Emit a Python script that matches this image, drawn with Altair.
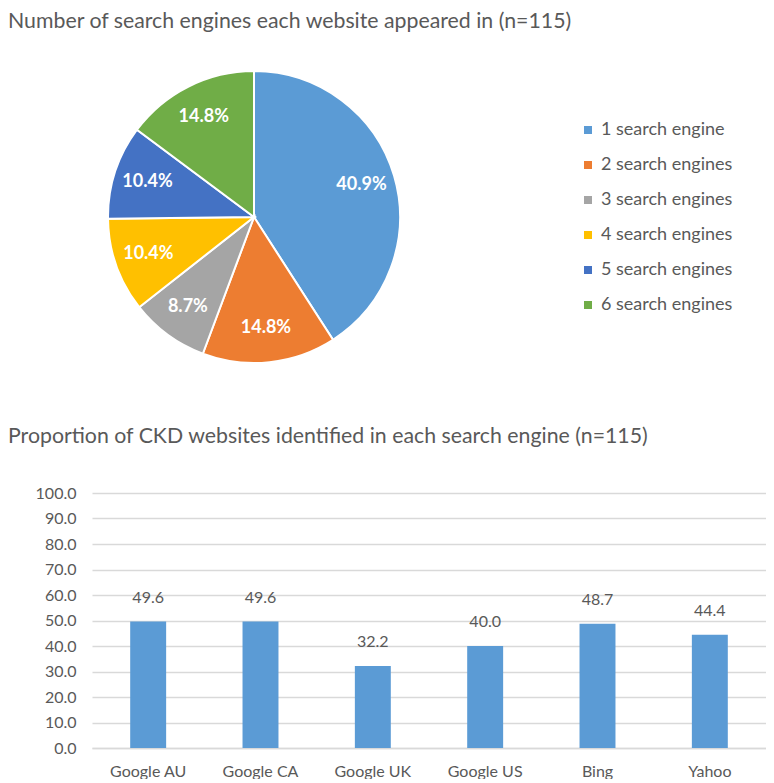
import altair as alt
import pandas as pd

# ---- data ----
pie_categories = ["1 search engine", "2 search engines", "3 search engines",
                  "4 search engines", "5 search engines", "6 search engines"]
pie_values = [40.9, 14.8, 8.7, 10.4, 10.4, 14.8]
pie_colors = ["#5B9BD5", "#ED7D31", "#A5A5A5", "#FFC000", "#4472C4", "#70AD47"]

engines = ["Google AU", "Google CA", "Google UK", "Google US", "Bing", "Yahoo"]
proportions = [49.6, 49.6, 32.2, 40.0, 48.7, 44.4]
y_ticks = [0, 10, 20, 30, 40, 50, 60, 70, 80, 90, 100]

pie_title = "Number of search engines each website appeared in (n=115)"
bar_title = "Proportion of CKD websites identified in each search engine (n=115)"

FONT = "Lato"
GRAY = "#595959"
GRID = "#D9D9D9"
BAR = "#5B9BD5"

pie_df = pd.DataFrame({"category": pie_categories, "value": pie_values,
                       "order": list(range(len(pie_categories)))})
bar_df = pd.DataFrame({"engine": engines, "value": proportions})

# ---- pie ----
base = alt.Chart(pie_df).encode(
    theta=alt.Theta("value:Q", stack=True),
    order=alt.Order("order:Q"),
)
arcs = base.mark_arc(outerRadius=146, stroke="white", strokeWidth=2).encode(
    color=alt.Color(
        "category:N",
        scale=alt.Scale(domain=pie_categories, range=pie_colors),
        legend=alt.Legend(
            title=None, orient="none", legendX=487, legendY=70,
            symbolType="square", symbolSize=64, symbolStrokeWidth=0,
            labelFont=FONT, labelFontSize=18, labelColor=GRAY,
            labelOffset=4, rowPadding=17,
        ),
    )
)
pie_labels = base.transform_calculate(
    lab="format(datum.value, '.1f') + '%'"
).mark_text(radius=112, font=FONT, fontSize=18, fontWeight="bold",
            color="white").encode(text="lab:N")

pie = alt.layer(arcs, pie_labels).properties(
    width=324, height=332,
    title=alt.TitleParams(pie_title, anchor="start", frame="group", dx=-84,
                          font=FONT, fontSize=21.3, fontWeight="normal",
                          color=GRAY, offset=19),
)

# ---- bars ----
bar_base = alt.Chart(bar_df).encode(
    x=alt.X("engine:N", sort=engines,
            scale=alt.Scale(paddingInner=0.68, paddingOuter=0.34),
            axis=alt.Axis(title=None, labelAngle=0, ticks=False,
                          domainColor=GRID, domainWidth=1.5,
                          labelFont=FONT, labelFontSize=16, labelColor=GRAY,
                          labelPadding=15)),
    y=alt.Y("value:Q", scale=alt.Scale(domain=[0, 100]),
            axis=alt.Axis(title=None, values=y_ticks, format=".1f",
                          ticks=False, domain=False, gridColor=GRID,
                          gridWidth=1.5,
                          labelFont=FONT, labelFontSize=16, labelColor=GRAY,
                          labelPadding=16)),
)
bars = bar_base.mark_bar(color=BAR)
bar_text = bar_base.mark_text(dy=-16, baseline="bottom", font=FONT,
                              fontSize=16, color=GRAY).encode(
    text=alt.Text("value:Q", format=".1f"))

bar_chart = alt.layer(bars, bar_text).properties(
    width=674, height=255,
    title=alt.TitleParams(bar_title, anchor="start", frame="group", dx=-84,
                          font=FONT, fontSize=21.3, fontWeight="normal",
                          color=GRAY, offset=38),
)

chart = alt.vconcat(pie, bar_chart, spacing=42).properties(
    padding={"top": 2, "left": 0, "right": 0, "bottom": 0}
).configure_view(stroke=None)

chart.save("out.html", embed_options={"renderer": "svg", "actions": False})
